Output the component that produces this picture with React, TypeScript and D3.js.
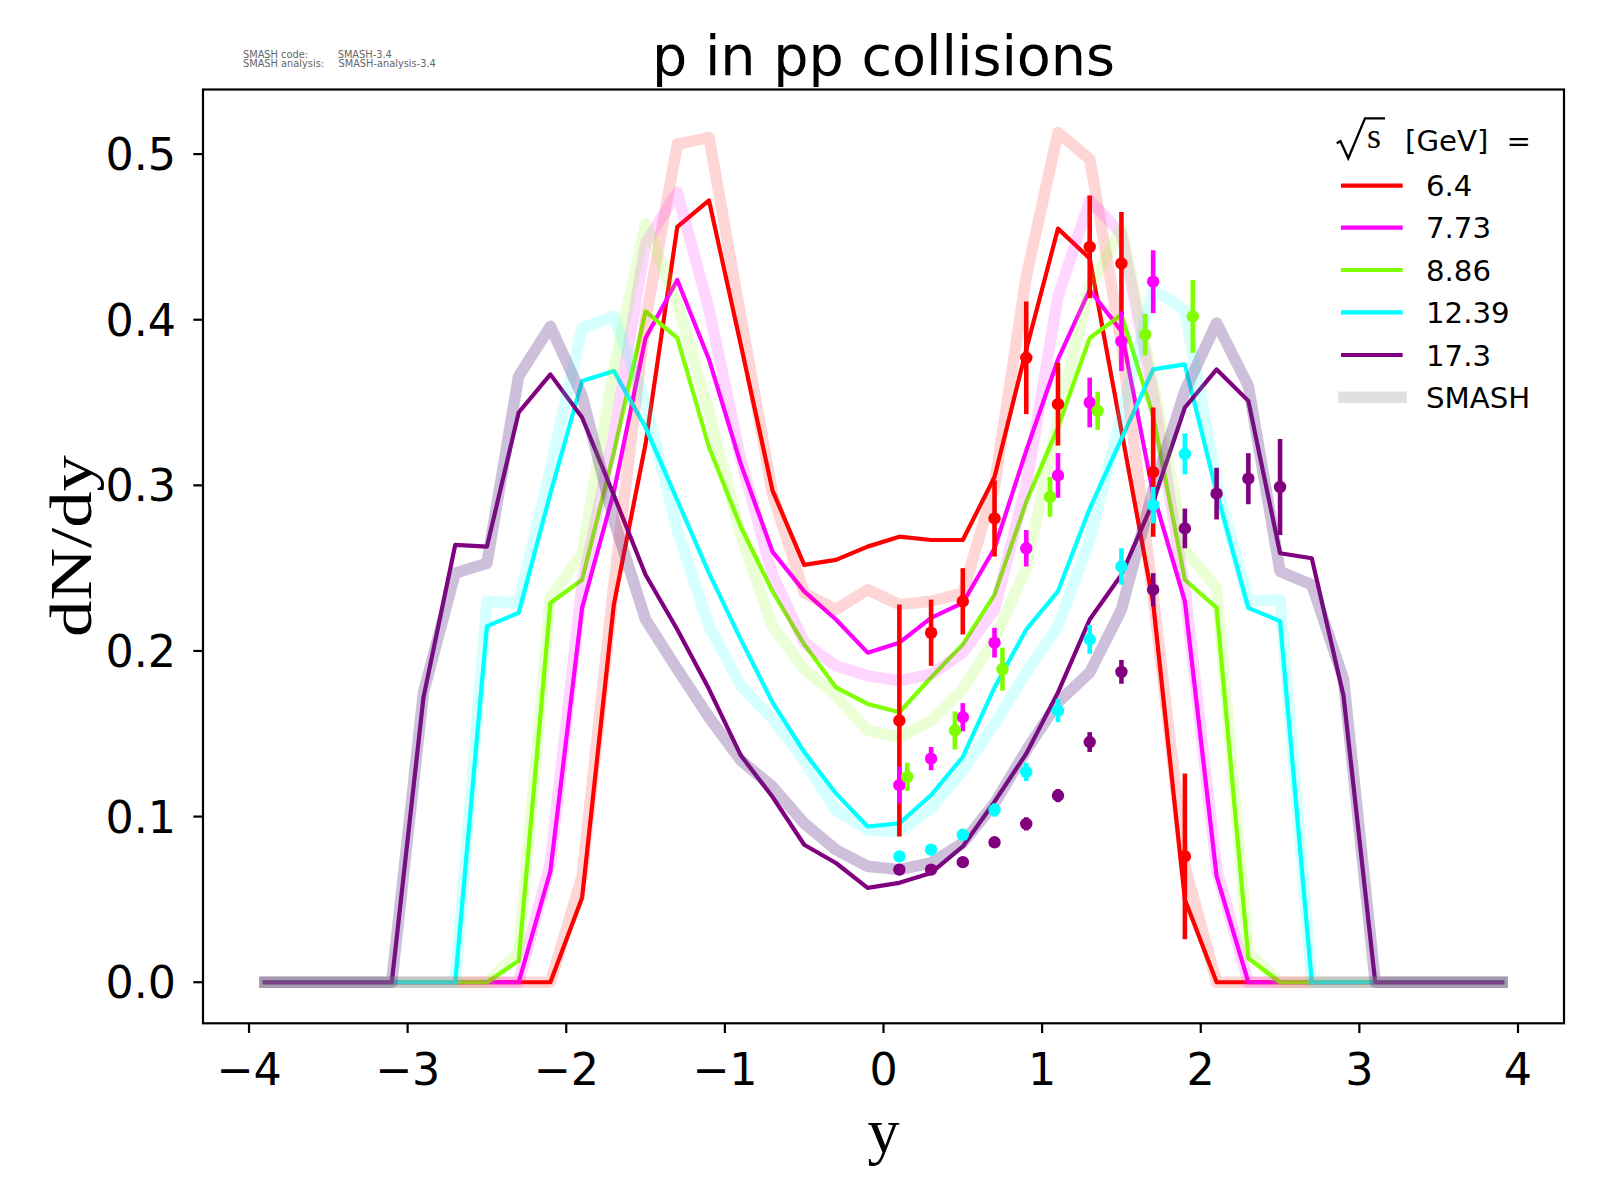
import * as d3 from 'd3'

// rapidity bin centres (-3.9 ... 3.9, step 0.2)
const rapidity = [
  -3.9, -3.7, -3.5, -3.3, -3.1, -2.9, -2.7, -2.5, -2.3, -2.1,
  -1.9, -1.7, -1.5, -1.3, -1.1, -0.9, -0.7, -0.5, -0.3, -0.1,
  0.1, 0.3, 0.5, 0.7, 0.9, 1.1, 1.3, 1.5, 1.7, 1.9,
  2.1, 2.3, 2.5, 2.7, 2.9, 3.1, 3.3, 3.5, 3.7, 3.9,
]

const energies = ['6.4', '7.73', '8.86', '12.39', '17.3']
const colors = ['#ff0000', '#ff00ff', '#7fff00', '#00ffff', '#800080']
// faded SMASH curves
const smashColors = ['#ff0000', '#ff00ff', '#7fff00', '#00ffff', '#5c2d84']
const smashAlpha = [0.16, 0.16, 0.16, 0.16, 0.3]

// thin lines
const ref64 = [0, 0, 0, 0, 0, 0, 0, 0, 0, 0, 0.051, 0.228, 0.325, 0.456, 0.472, 0.385, 0.297, 0.252, 0.255, 0.263, 0.269, 0.267, 0.267, 0.305, 0.382, 0.455, 0.437, 0.333, 0.229, 0.05, 0, 0, 0, 0, 0, 0, 0, 0, 0, 0]
const ref773 = [0, 0, 0, 0, 0, 0, 0, 0, 0, 0.067, 0.226, 0.296, 0.389, 0.424, 0.376, 0.313, 0.26, 0.236, 0.219, 0.199, 0.205, 0.22, 0.229, 0.262, 0.321, 0.376, 0.418, 0.393, 0.295, 0.23, 0.064, 0, 0, 0, 0, 0, 0, 0, 0, 0]
const ref886 = [0, 0, 0, 0, 0, 0, 0, 0, 0.013, 0.229, 0.243, 0.32, 0.405, 0.389, 0.323, 0.275, 0.236, 0.204, 0.178, 0.168, 0.163, 0.184, 0.204, 0.234, 0.29, 0.335, 0.389, 0.403, 0.342, 0.243, 0.226, 0.0145, 0, 0, 0, 0, 0, 0, 0, 0]
const ref1239 = [0, 0, 0, 0, 0, 0, 0, 0.215, 0.223, 0.295, 0.363, 0.369, 0.335, 0.291, 0.247, 0.207, 0.169, 0.139, 0.114, 0.094, 0.096, 0.113, 0.136, 0.178, 0.213, 0.236, 0.286, 0.328, 0.37, 0.373, 0.296, 0.226, 0.218, 0, 0, 0, 0, 0, 0, 0]
const ref173 = [0, 0, 0, 0, 0, 0.172, 0.264, 0.263, 0.344, 0.367, 0.341, 0.294, 0.246, 0.213, 0.177, 0.137, 0.112, 0.083, 0.072, 0.057, 0.06, 0.066, 0.082, 0.109, 0.138, 0.175, 0.219, 0.246, 0.29, 0.347, 0.37, 0.351, 0.259, 0.256, 0.173, 0, 0, 0, 0, 0]

// SMASH (thick, faded)
const smash64 = [0, 0, 0, 0, 0, 0, 0, 0, 0, 0, 0.064, 0.24, 0.4, 0.506, 0.51, 0.402, 0.295, 0.235, 0.225, 0.237, 0.228, 0.23, 0.235, 0.3, 0.426, 0.513, 0.497, 0.386, 0.233, 0.07, 0, 0, 0, 0, 0, 0, 0, 0, 0, 0]
const smash773 = [0, 0, 0, 0, 0, 0, 0, 0, 0, 0.072, 0.24, 0.33, 0.446, 0.477, 0.406, 0.316, 0.246, 0.205, 0.191, 0.185, 0.182, 0.186, 0.199, 0.225, 0.3, 0.414, 0.472, 0.452, 0.355, 0.237, 0.068, 0, 0, 0, 0, 0, 0, 0, 0, 0]
const smash886 = [0, 0, 0, 0, 0, 0, 0, 0, 0.018, 0.232, 0.259, 0.37, 0.458, 0.41, 0.345, 0.27, 0.215, 0.189, 0.173, 0.152, 0.148, 0.158, 0.177, 0.207, 0.25, 0.34, 0.42, 0.455, 0.362, 0.261, 0.238, 0.018, 0, 0, 0, 0, 0, 0, 0, 0]
const smash1239 = [0, 0, 0, 0, 0, 0, 0, 0.23, 0.229, 0.31, 0.395, 0.402, 0.35, 0.273, 0.215, 0.179, 0.159, 0.134, 0.104, 0.092, 0.091, 0.105, 0.128, 0.156, 0.187, 0.215, 0.267, 0.342, 0.418, 0.406, 0.302, 0.23, 0.231, 0, 0, 0, 0, 0, 0, 0]
const smash173 = [0, 0, 0, 0, 0, 0.175, 0.247, 0.253, 0.366, 0.396, 0.354, 0.279, 0.219, 0.189, 0.16, 0.134, 0.118, 0.096, 0.08, 0.07, 0.068, 0.072, 0.084, 0.108, 0.14, 0.169, 0.187, 0.225, 0.297, 0.357, 0.398, 0.36, 0.248, 0.24, 0.183, 0, 0, 0, 0, 0]

// measured points
const expY64 = [0.1, 0.3, 0.5, 0.7, 0.9, 1.1, 1.3, 1.5, 1.7, 1.9]
const expV64 = [0.158, 0.211, 0.23, 0.28, 0.377, 0.349, 0.444, 0.434, 0.308, 0.076]
const expE64 = [0.07, 0.02, 0.02, 0.023, 0.034, 0.025, 0.031, 0.031, 0.039, 0.05]
const expY773 = [0.1, 0.3, 0.5, 0.7, 0.9, 1.1, 1.3, 1.5, 1.7]
const expV773 = [0.119, 0.135, 0.16, 0.205, 0.262, 0.306, 0.35, 0.387, 0.423]
const expE773 = [0.011, 0.007, 0.0085, 0.009, 0.011, 0.0135, 0.015, 0.018, 0.019]
const expY886 = [0.15, 0.45, 0.75, 1.05, 1.35, 1.65, 1.95]
const expV886 = [0.124, 0.152, 0.189, 0.293, 0.345, 0.391, 0.402]
const expE886 = [0.0085, 0.0115, 0.013, 0.012, 0.0115, 0.0125, 0.022]
const expY1239 = [0.1, 0.3, 0.5, 0.7, 0.9, 1.1, 1.3, 1.5, 1.7, 1.9]
const expV1239 = [0.076, 0.08, 0.089, 0.104, 0.127, 0.164, 0.207, 0.251, 0.288, 0.319]
const expE1239 = [0.003, 0.003, 0.003, 0.004, 0.0055, 0.007, 0.0087, 0.011, 0.011, 0.0124]
const expY173 = [0.1, 0.3, 0.5, 0.7, 0.9, 1.1, 1.3, 1.5, 1.7, 1.9, 2.1, 2.3, 2.5]
const expV173 = [0.068, 0.068, 0.0725, 0.0845, 0.0956, 0.1127, 0.145, 0.1874, 0.237, 0.274, 0.295, 0.304, 0.299]
const expE173 = [0.002, 0.002, 0.002, 0.003, 0.004, 0.004, 0.006, 0.0072, 0.01, 0.012, 0.0156, 0.0154, 0.029]

const refSeries = [ref64, ref773, ref886, ref1239, ref173]
const smashSeries = [smash64, smash773, smash886, smash1239, smash173]
const expSeries = [
  [expY64, expV64, expE64],
  [expY773, expV773, expE773],
  [expY886, expV886, expE886],
  [expY1239, expV1239, expE1239],
  [expY173, expV173, expE173],
]

const xTicks = [-4, -3, -2, -1, 0, 1, 2, 3, 4]
const yTicks = [0, 0.1, 0.2, 0.3, 0.4, 0.5]

const SANS = 'DejaVu Sans, sans-serif'
const SERIF = 'Liberation Serif, Times New Roman, serif'

export default function App() {
  const left = 203, right = 1564, top = 89.5, bottom = 1023.3
  const x = d3.scaleLinear().domain([-4.29, 4.29]).range([left, right])
  const y = d3.scaleLinear().domain([-0.0248, 0.539]).range([bottom, top])
  const line = d3.line<number>().x((_, i) => x(rapidity[i])).y(d => y(d))

  const tickFont = 44.4
  const legFont = 29.2
  const legRows = [185.7, 227.7, 270, 312.3, 355, 397.3]

  return (
    <svg width={1600} height={1200} style={{ position: 'absolute', left: 0, top: 0, background: '#fff' }}>
      <rect x={0} y={0} width={1600} height={1200} fill="#fff" />
      <defs>
        <clipPath id="plotArea">
          <rect x={left} y={top} width={right - left} height={bottom - top} />
        </clipPath>
      </defs>

      <g clipPath="url(#plotArea)">
        {refSeries.map((s, i) => (
          <path key={'r' + i} d={line(s)!} fill="none" stroke={colors[i]} strokeWidth={4.2}
            strokeLinejoin="round" strokeLinecap="square" />
        ))}
        {smashSeries.map((s, i) => (
          <path key={'s' + i} d={line(s)!} fill="none" stroke={smashColors[i]} strokeOpacity={smashAlpha[i]}
            strokeWidth={11.5} strokeLinejoin="round" strokeLinecap="square" />
        ))}
        {expSeries.map(([ys, vs, es], i) => (
          <g key={'e' + i} fill={colors[i]} stroke={colors[i]}>
            {ys.map((yy, j) => (
              <g key={j}>
                <line x1={x(yy)} x2={x(yy)} y1={y(vs[j] - es[j])} y2={y(vs[j] + es[j])} strokeWidth={4.6} />
                <circle cx={x(yy)} cy={y(vs[j])} r={6.2} stroke="none" />
              </g>
            ))}
          </g>
        ))}
      </g>

      {/* frame */}
      <rect x={left} y={top} width={right - left} height={bottom - top} fill="none" stroke="#000" strokeWidth={2.2} />

      {/* x axis */}
      {xTicks.map(t => (
        <g key={'xt' + t}>
          <line x1={x(t)} x2={x(t)} y1={bottom} y2={bottom + 9.7} stroke="#000" strokeWidth={2.2} />
          <text x={x(t)} y={1085} textAnchor="middle" fontFamily={SANS} fontSize={tickFont}>
            {t < 0 ? '\u2212' + Math.abs(t) : String(t)}
          </text>
        </g>
      ))}
      {/* y axis */}
      {yTicks.map(t => (
        <g key={'yt' + t}>
          <line x1={left - 9.7} x2={left} y1={y(t)} y2={y(t)} stroke="#000" strokeWidth={2.2} />
          <text x={176} y={y(t) + tickFont * 0.36} textAnchor="end" fontFamily={SANS} fontSize={tickFont}>
            {d3.format('.1f')(t)}
          </text>
        </g>
      ))}

      <text x={883.5} y={1152} textAnchor="middle" fontFamily={SERIF} fontSize={64}>y</text>
      <text transform={`translate(91,546) rotate(-90)`} textAnchor="middle" fontFamily={SERIF} fontSize={60}
        textLength={182} lengthAdjust="spacingAndGlyphs">dN/dy</text>

      <text x={883.5} y={75} textAnchor="middle" fontFamily={SANS} fontSize={55.6}>p in pp collisions</text>

      {/* version info */}
      <g fontFamily={SANS} fontSize={9.8} fill="#666">
        <text x={243} y={57.8}>SMASH code:</text>
        <text x={337.7} y={57.8}>SMASH-3.4</text>
        <text x={243} y={66.8}>SMASH analysis:</text>
        <text x={338.5} y={66.8}>SMASH-analysis-3.4</text>
      </g>

      {/* legend */}
      <g>
        <polyline points="1336.7,143.3 1340.5,141.2 1348.3,158.3 1365,118.3 1385,118.3" fill="none" stroke="#000"
          strokeWidth={2.3} strokeLinejoin="miter" />
        <text x={1367} y={148.3} fontFamily={SERIF} fontSize={36}>s</text>
        <text x={1405} y={151} fontFamily={SANS} fontSize={legFont}>[GeV]</text>
        <text x={1531} y={151} textAnchor="end" fontFamily={SANS} fontSize={legFont}>=</text>
        {energies.map((e, i) => (
          <g key={'l' + e}>
            <line x1={1343.1} x2={1400.6} y1={legRows[i]} y2={legRows[i]} stroke={colors[i]}
              strokeWidth={4.2} strokeLinecap="square" />
            <text x={1426} y={legRows[i] + legFont * 0.36} fontFamily={SANS} fontSize={legFont}>{e}</text>
          </g>
        ))}
        <line x1={1344} x2={1401} y1={legRows[5]} y2={legRows[5]} stroke="#000" strokeOpacity={0.12}
          strokeWidth={11.5} strokeLinecap="square" />
        <text x={1426} y={legRows[5] + legFont * 0.36} fontFamily={SANS} fontSize={legFont}>SMASH</text>
      </g>
    </svg>
  )
}
